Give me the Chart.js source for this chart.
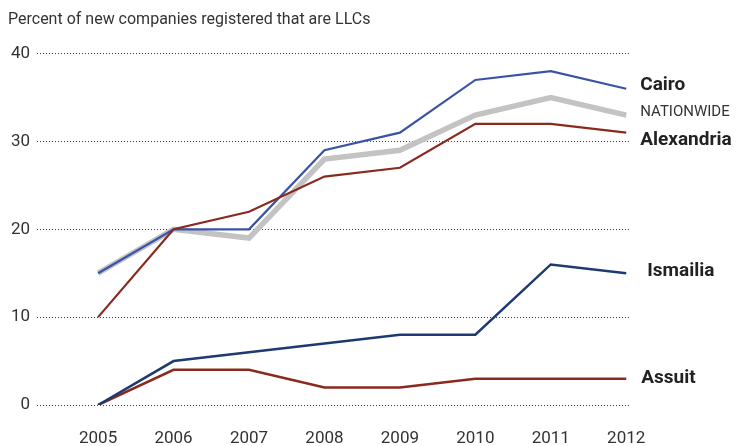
<!DOCTYPE html>
<html><head><meta charset="utf-8">
<script src="https://cdn.jsdelivr.net/npm/chart.js@4"></script>
<style>html,body{margin:0;padding:0;background:#fff}#wrap{width:742px;height:446px;position:relative}</style>
</head><body><div id="wrap"><canvas id="c" width="742" height="446"></canvas></div>
<script>
const years = [2005, 2006, 2007, 2008, 2009, 2010, 2011, 2012];
const cairo = [15, 20, 20, 29, 31, 37, 38, 36];
const nationwide = [15, 20, 19, 28, 29, 33, 35, 33];
const alexandria = [10, 20, 22, 26, 27, 32, 32, 31];
const ismailia = [0, 5, 6, 7, 8, 8, 16, 15];
const assuit = [0, 4, 4, 2, 2, 3, 3, 3];
const yTicks = [0, 10, 20, 30, 40];
const titleText = 'Percent of new companies registered that are LLCs';

const FONT = 'Roboto, "Open Sans", sans-serif';
const pts = arr => arr.map((v, i) => ({x: years[i], y: v}));

const endLabels = {
  id: 'endLabels',
  afterDatasetsDraw(chart) {
    const ctx = chart.ctx;
    ctx.save();
    ctx.textBaseline = 'middle';
    ctx.textAlign = 'left';
    chart.data.datasets.forEach((ds, i) => {
      if (!ds.endLabel) return;
      const meta = chart.getDatasetMeta(i);
      const p = meta.data[meta.data.length - 1];
      ctx.font = ds.endLabel.font;
      ctx.fillStyle = ds.endLabel.color;
      ctx.fillText(ds.endLabel.text, p.x + ds.endLabel.dx, p.y + ds.endLabel.dy);
    });
    ctx.restore();
  }
};

new Chart(document.getElementById('c'), {
  type: 'line',
  data: {
    datasets: [
      {label: 'Alexandria', data: pts(alexandria), borderColor: '#8a2a1e', borderWidth: 2.2,
       endLabel: {text: 'Alexandria', font: 'bold 19px ' + FONT, color: '#222', dx: 14, dy: 8}},
      {label: 'Cairo', data: pts(cairo), borderColor: '#3b53a6', borderWidth: 2.2,
       endLabel: {text: 'Cairo', font: 'bold 19px ' + FONT, color: '#222', dx: 14, dy: -3}},
      {label: 'Ismailia', data: pts(ismailia), borderColor: '#1e3a72', borderWidth: 2.5,
       endLabel: {text: 'Ismailia', font: 'bold 19px ' + FONT, color: '#222', dx: 21, dy: -2}},
      {label: 'Assuit', data: pts(assuit), borderColor: '#8a2a1e', borderWidth: 2.5,
       endLabel: {text: 'Assuit', font: 'bold 19px ' + FONT, color: '#222', dx: 15, dy: 0}},
      {label: 'NATIONWIDE', data: pts(nationwide), borderColor: '#c3c3c3', borderWidth: 5.5,
       endLabel: {text: 'NATIONWIDE', font: '15px ' + FONT, color: '#333', dx: 14, dy: -3}}
    ]
  },
  options: {
    responsive: false,
    animation: false,
    events: [],
    elements: {point: {radius: 0}, line: {tension: 0, borderCapStyle: 'butt', borderJoinStyle: 'miter'}},
    layout: {padding: {left: 8, right: 112, top: 0, bottom: 0}},
    plugins: {
      legend: {display: false},
      tooltip: {enabled: false},
      title: {display: true, text: titleText, align: 'start', color: '#333',
              font: {family: FONT, size: 16, weight: 'normal'}, padding: {top: 10, bottom: 24.4}}
    },
    scales: {
      x: {
        type: 'linear', min: 2004.19, max: 2012.05,
        afterBuildTicks: s => { s.ticks = years.map(v => ({value: v})); },
        ticks: {color: '#333', font: {family: FONT, size: 17}, padding: 16, maxRotation: 0,
                callback: v => String(v)},
        grid: {display: false},
        border: {display: false},
        afterFit: s => { s.height = 41; }
      },
      y: {
        min: 0, max: 40,
        afterBuildTicks: s => { s.ticks = yTicks.map(v => ({value: v})); },
        ticks: {color: '#333', font: {family: FONT, size: 17}, padding: 7},
        grid: {color: '#2b3f8a', lineWidth: 1, drawTicks: false},
        border: {display: false, dash: [1, 2]},
        afterFit: s => { s.width = 29; }
      }
    }
  },
  plugins: [endLabels]
});
</script></body></html>
